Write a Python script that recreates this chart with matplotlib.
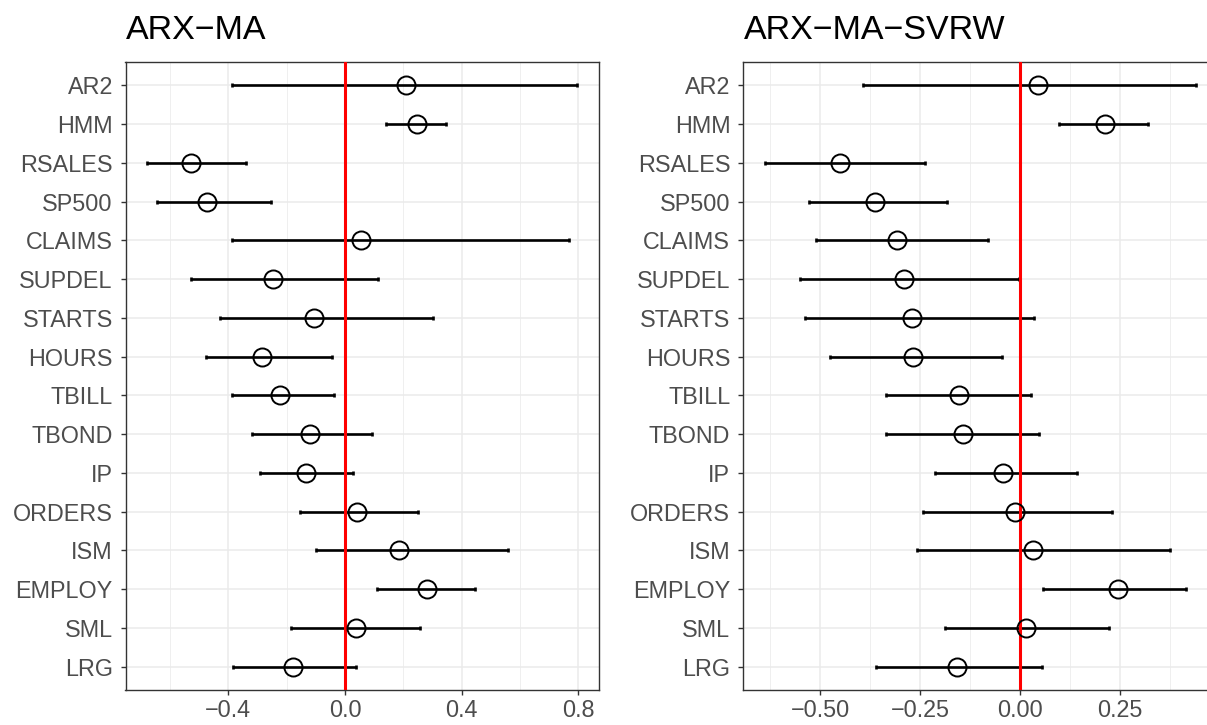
import matplotlib
matplotlib.use('Agg')
import matplotlib.pyplot as plt
from matplotlib.ticker import MultipleLocator, FuncFormatter
import numpy as np

plt.rcParams['font.family'] = ['Liberation Sans', 'DejaVu Sans']

variables = ['AR2', 'HMM', 'RSALES', 'SP500', 'CLAIMS', 'SUPDEL', 'STARTS', 'HOURS',
             'TBILL', 'TBOND', 'IP', 'ORDERS', 'ISM', 'EMPLOY', 'SML', 'LRG']

# ARX-MA
ma_est = [0.209, 0.247, -0.528, -0.474, 0.056, -0.247, -0.105, -0.283,
          -0.223, -0.121, -0.133, 0.040, 0.186, 0.283, 0.037, -0.179]
ma_lo = [-0.387, 0.141, -0.679, -0.643, -0.389, -0.529, -0.427, -0.478,
         -0.388, -0.320, -0.290, -0.153, -0.100, 0.110, -0.185, -0.385]
ma_hi = [0.796, 0.347, -0.339, -0.255, 0.769, 0.114, 0.302, -0.044,
         -0.036, 0.094, 0.027, 0.251, 0.559, 0.445, 0.256, 0.039]

# ARX-MA-SVRW
sv_est = [0.044, 0.212, -0.450, -0.362, -0.309, -0.291, -0.270, -0.269,
          -0.154, -0.144, -0.042, -0.012, 0.033, 0.244, 0.014, -0.159]
sv_lo = [-0.392, 0.098, -0.639, -0.529, -0.511, -0.550, -0.537, -0.476,
         -0.336, -0.336, -0.214, -0.243, -0.257, 0.058, -0.189, -0.360]
sv_hi = [0.441, 0.321, -0.237, -0.184, -0.079, -0.003, 0.034, -0.045,
         0.027, 0.048, 0.143, 0.231, 0.374, 0.416, 0.222, 0.055]

panels = [
    ('ARX\u2212MA', ma_est, ma_lo, ma_hi, 0.4, 0.2, 1),
    ('ARX\u2212MA\u2212SVRW', sv_est, sv_lo, sv_hi, 0.25, 0.125, 2),
]

W, H = 1207, 725
fig = plt.figure(figsize=(W / 100, H / 100), dpi=100)
boxes = [(125.5, 473), (743, 475)]
top_px, bot_px = 62, 690

n = len(variables)
ypos = np.arange(n)[::-1]


def make_fmt(digits):
    def f(v, pos):
        s = '%.*f' % (digits, v)
        if float(s) == 0:
            s = s.lstrip('-')
        return s.replace('-', '\u2212')
    return FuncFormatter(f)


for (title, est, lo, hi, major, minor, digits), (x0, w) in zip(panels, boxes):
    ax = fig.add_axes([x0 / W, 1 - bot_px / H, w / W, (bot_px - top_px) / H])
    est = np.array(est); lo = np.array(lo); hi = np.array(hi)

    rng = hi.max() - lo.min()
    ax.set_xlim(lo.min() - 0.05 * rng, hi.max() + 0.05 * rng)
    ax.set_ylim(-0.6, n - 0.4)

    ax.xaxis.set_major_locator(MultipleLocator(major))
    ax.xaxis.set_minor_locator(MultipleLocator(minor))
    ax.xaxis.set_major_formatter(make_fmt(digits))
    ax.set_yticks(ypos)
    ax.set_yticklabels(variables)

    ax.grid(which='major', color='#EBEBEB', linewidth=1.1, zorder=0)
    ax.grid(which='minor', axis='x', color='#EBEBEB', linewidth=0.55, zorder=0)
    ax.set_axisbelow(True)

    ax.errorbar(est, ypos, xerr=[est - lo, hi - est], fmt='none', ecolor='black',
                elinewidth=1.9, capsize=1.6, capthick=1.9, zorder=2)
    ax.axvline(0, color='#FF0000', linewidth=2.2, zorder=3)
    ax.plot(est, ypos, 'o', ms=13, mfc='none', mec='black', mew=1.4, zorder=4)

    for s in ax.spines.values():
        s.set_color('#333333')
        s.set_linewidth(1.0)
    ax.tick_params(which='major', length=3.6, width=1.0, color='#333333',
                   labelsize=16.8, labelcolor='#4D4D4D', pad=3)
    ax.tick_params(axis='y', pad=5.5)
    ax.tick_params(which='minor', length=0)

    fig.text((x0 + 0.5) / W, 1 - 39 / H, title, fontsize=24.5, color='black',
             ha='left', va='baseline')

fig.savefig('out.png', dpi=100)
